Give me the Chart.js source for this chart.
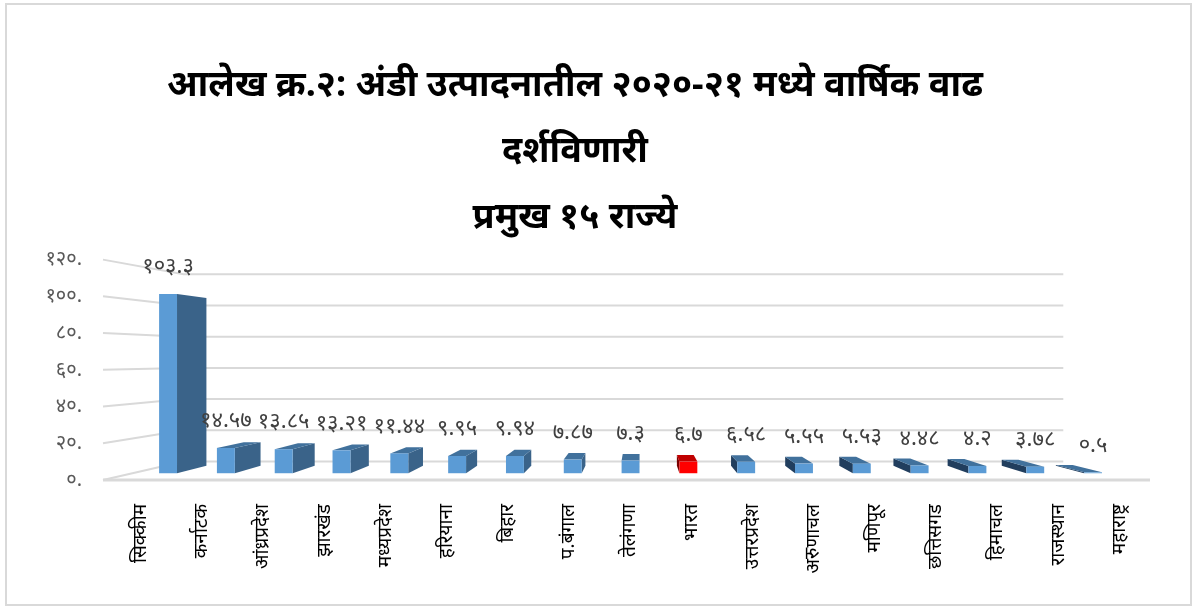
<!DOCTYPE html>
<html>
<head>
<meta charset="utf-8">
<script src="https://cdn.jsdelivr.net/npm/chart.js@4.4.0/dist/chart.umd.min.js"></script>
<style>
html, body { margin: 0; padding: 0; background: #fff; }
#wrap { position: relative; width: 1200px; height: 607px; }
#frame { position: absolute; left: 5px; top: 3px; width: 1183px; height: 599px; border: 2px solid #d9d9d9; pointer-events: none; }
</style>
</head>
<body>
<div id="wrap">
  <canvas id="chart" width="1200" height="607"></canvas>
  <div id="frame"></div>
</div>
<script>
// data
const states = ["सिक्कीम", "कर्नाटक", "आंध्रप्रदेश", "झारखंड", "मध्यप्रदेश", "हरियाना", "बिहार", "प.बंगाल",
                "तेलंगणा", "भारत", "उत्तरप्रदेश", "अरुणाचल", "मणिपूर", "छत्तिसगड", "हिमाचल", "राजस्थान", "महाराष्ट्र"];
const growth = [103.3, 14.57, 13.85, 13.21, 11.44, 9.95, 9.94, 7.87, 7.3, 6.7, 6.58, 5.55, 5.53, 4.48, 4.2, 3.78, 0.5];
const yTicks = [0, 20, 40, 60, 80, 100, 120];
const highlight = "भारत";
const titleLines = ["आलेख क्र.२: अंडी उत्पादनातील २०२०-२१ मध्ये वार्षिक वाढ", "दर्शविणारी", "प्रमुख १५ राज्ये"];

const devDigits = "०१२३४५६७८९";
function toDev(v) {
  return String(v).replace(/[0-9]/g, d => devDigits[d]);
}

// fake 3d: perspective toward an eye point
const eye = { x: 640, y: 357 };
const sFront = 0.945, sBack = 0.885, sWall = 0.85;
function proj(x, y, s) {
  return [eye.x + s * (x - eye.x), eye.y + s * (y - eye.y)];
}
function poly(ctx, pts, color) {
  ctx.beginPath();
  ctx.moveTo(pts[0][0], pts[0][1]);
  for (let i = 1; i < pts.length; i++) ctx.lineTo(pts[i][0], pts[i][1]);
  ctx.closePath();
  ctx.fillStyle = color;
  ctx.fill();
}

const walls = {
  id: "walls",
  beforeDatasetsDraw(chart) {
    const ctx = chart.ctx, a = chart.chartArea, y = chart.scales.y;
    const left = a.left - 7;
    ctx.save();
    ctx.strokeStyle = "#d9d9d9";
    ctx.lineWidth = 2;
    yTicks.forEach(t => {
      const py = y.getPixelForValue(t);
      const b = proj(left, py, sWall);
      const r = proj(a.right - 12, py, sWall);
      ctx.beginPath();
      ctx.moveTo(left, py);
      ctx.lineTo(b[0], b[1]);
      ctx.lineTo(r[0], b[1]);
      ctx.stroke();
    });
    ctx.lineWidth = 3;
    ctx.beginPath();
    ctx.moveTo(left, a.bottom);
    ctx.lineTo(a.right, a.bottom);
    ctx.stroke();
    ctx.restore();
  }
};

const bars3d = {
  id: "bars3d",
  afterDatasetsDraw(chart) {
    const ctx = chart.ctx;
    const meta = chart.getDatasetMeta(0);
    ctx.save();
    meta.data.forEach((bar, i) => {
      const p = bar.getProps(["x", "y", "base", "width"], true);
      const x0 = p.x - p.width / 2, x1 = p.x + p.width / 2;
      const red = states[i] === highlight;
      const c = red
        ? { front: "#ff0000", top: "#c00000", side: "#a00000", sideL: "#7a0000" }
        : { front: "#5b9bd5", top: "#41719c", side: "#3a6389", sideL: "#213e5e" };
      const fTL = proj(x0, p.y, sFront), fTR = proj(x1, p.y, sFront);
      const fBL = proj(x0, p.base, sFront), fBR = proj(x1, p.base, sFront);
      const bTL = proj(x0, p.y, sBack), bTR = proj(x1, p.y, sBack);
      const bBL = proj(x0, p.base, sBack), bBR = proj(x1, p.base, sBack);
      if (p.x < eye.x) {
        poly(ctx, [fTR, bTR, bBR, fBR], c.side);
      } else {
        poly(ctx, [fTL, bTL, bBL, fBL], c.sideL);
      }
      if (p.y > eye.y) {
        poly(ctx, [fTL, fTR, bTR, bTL], c.top);
      }
      poly(ctx, [fTL, fTR, fBR, fBL], c.front);

      ctx.fillStyle = "#404040";
      ctx.font = "22px 'Noto Sans', sans-serif";
      ctx.textAlign = "center";
      ctx.textBaseline = "middle";
      ctx.fillText(toDev(growth[i]), (fTL[0] + fTR[0]) / 2, fTL[1] - 27);
    });
    ctx.restore();
  }
};

new Chart(document.getElementById("chart"), {
  type: "bar",
  data: {
    labels: states,
    datasets: [{
      label: "वार्षिक वाढ",
      data: growth,
      backgroundColor: "rgba(0,0,0,0)",
      categoryPercentage: 1,
      barPercentage: 0.31
    }]
  },
  options: {
    responsive: false,
    animation: false,
    layout: { padding: { left: 0, right: 50, top: 0, bottom: 0 } },
    plugins: {
      legend: { display: false },
      tooltip: { enabled: false },
      title: {
        display: true,
        text: titleLines,
        color: "#000",
        font: { family: "'Noto Sans', sans-serif", size: 36, weight: "bold", lineHeight: 1.83 },
        padding: { top: 53, bottom: 9 }
      }
    },
    scales: {
      x: {
        grid: { display: false },
        border: { display: false },
        ticks: {
          autoSkip: false,
          minRotation: 90,
          maxRotation: 90,
          padding: 16,
          color: "#000",
          font: { family: "'Noto Sans', sans-serif", size: 19 }
        },
        afterFit: s => { s.height = 127; }
      },
      y: {
        min: 0,
        max: 120,
        grid: { display: false },
        border: { display: false },
        ticks: {
          stepSize: 20,
          padding: 20,
          color: "#595959",
          font: { family: "'Noto Sans', sans-serif", size: 20 },
          callback: v => toDev(v) + "."
        },
        afterFit: s => { s.width = 110; }
      }
    }
  },
  plugins: [walls, bars3d]
});
</script>
</body>
</html>
